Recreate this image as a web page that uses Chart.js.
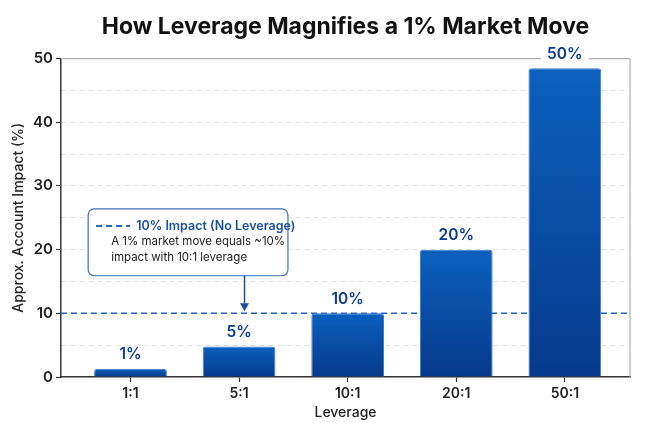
<!DOCTYPE html>
<html>
<head>
<meta charset="utf-8">
<script src="https://cdn.jsdelivr.net/npm/chart.js@4/dist/chart.umd.min.js"></script>
<style>
  html, body { margin: 0; padding: 0; background: #fff; }
  #wrap { width: 650px; height: 433px; }
</style>
</head>
<body>
<div id="wrap"><canvas id="grafica"></canvas></div>
<script>
// Datos
const categorias = ['1:1', '5:1', '10:1', '20:1', '50:1'];
const impactos = [1.3, 4.8, 10, 20, 48.5];
const etiquetas = ['1%', '5%', '10%', '20%', '50%'];
const ticksY = [0, 10, 20, 30, 40, 50];
const lineaReferencia = 10;

const FUENTE = 'Inter, "Noto Sans", sans-serif';

// Marco superior/derecho y línea de referencia (detrás de las barras)
const fondoPlugin = {
  id: 'fondo',
  beforeDatasetsDraw(chart) {
    const { ctx, chartArea: a, scales } = chart;
    ctx.save();
    ctx.strokeStyle = '#b0b0b0';
    ctx.lineWidth = 1.2;
    ctx.beginPath();
    ctx.moveTo(a.left, a.top);
    ctx.lineTo(a.right, a.top);
    ctx.lineTo(a.right, a.bottom);
    ctx.stroke();

    const yRef = scales.y.getPixelForValue(lineaReferencia);
    ctx.strokeStyle = '#2563c4';
    ctx.lineWidth = 1.5;
    ctx.setLineDash([6, 4]);
    ctx.beginPath();
    ctx.moveTo(a.left, yRef);
    ctx.lineTo(a.right, yRef);
    ctx.stroke();
    ctx.restore();
  }
};

// Etiquetas de valor y cuadro de anotación
const etiquetasPlugin = {
  id: 'etiquetas',
  afterDatasetsDraw(chart) {
    const { ctx, scales } = chart;
    const meta = chart.getDatasetMeta(0);
    ctx.save();
    ctx.font = '600 15.5px ' + FUENTE;
    ctx.textAlign = 'center';
    ctx.textBaseline = 'middle';
    meta.data.forEach((bar, i) => {
      const txt = etiquetas[i];
      const w = ctx.measureText(txt).width;
      const y = bar.y - 14;
      ctx.fillStyle = '#fff';
      ctx.fillRect(bar.x - w / 2 - 6, y - 9, w + 12, 18);
      ctx.fillStyle = '#0d3d8f';
      ctx.fillText(txt, bar.x, y);
    });

    // Cuadro de anotación
    const x = scales.x, y = scales.y;
    const left = x.getPixelForValue(-0.39);
    const right = x.getPixelForValue(1.45);
    const top = y.getPixelForValue(26.4);
    const bottom = y.getPixelForValue(15.9);
    ctx.beginPath();
    ctx.roundRect(left, top, right - left, bottom - top, 6);
    ctx.fillStyle = '#fff';
    ctx.fill();
    ctx.strokeStyle = '#3d6fbf';
    ctx.lineWidth = 1.2;
    ctx.stroke();

    const fila1 = top + 17;
    ctx.strokeStyle = '#2563c4';
    ctx.lineWidth = 2;
    ctx.setLineDash([6, 4]);
    ctx.beginPath();
    ctx.moveTo(left + 8, fila1);
    ctx.lineTo(left + 42, fila1);
    ctx.stroke();
    ctx.setLineDash([]);

    ctx.textAlign = 'left';
    ctx.fillStyle = '#1b4f9e';
    ctx.font = '600 12.5px ' + FUENTE;
    ctx.fillText('10% Impact (No Leverage)', left + 48, fila1);
    ctx.fillStyle = '#222';
    ctx.font = '400 11.5px ' + FUENTE;
    ctx.fillText('A 1% market move equals ~10%', left + 23, fila1 + 16);
    ctx.fillText('impact with 10:1 leverage', left + 23, fila1 + 32);

    // Flecha hacia la línea de referencia
    const ax = x.getPixelForValue(1.05);
    const tip = y.getPixelForValue(lineaReferencia) - 2;
    ctx.strokeStyle = '#1f4f9a';
    ctx.fillStyle = '#1f4f9a';
    ctx.lineWidth = 1.5;
    ctx.beginPath();
    ctx.moveTo(ax, bottom);
    ctx.lineTo(ax, tip - 6);
    ctx.stroke();
    ctx.beginPath();
    ctx.moveTo(ax, tip);
    ctx.lineTo(ax - 4.5, tip - 8);
    ctx.lineTo(ax + 4.5, tip - 8);
    ctx.closePath();
    ctx.fill();
    ctx.restore();
  }
};

function degradado(context) {
  const chart = context.chart;
  if (!chart.chartArea) return '#0a56ad';
  const y = chart.scales.y;
  const top = y.getPixelForValue(impactos[context.dataIndex]);
  const base = y.getPixelForValue(0);
  const g = chart.ctx.createLinearGradient(0, top, 0, base);
  g.addColorStop(0, '#0b60bf');
  g.addColorStop(1, '#063a8b');
  return g;
}

const ctx = document.getElementById('grafica').getContext('2d');
new Chart(ctx, {
  type: 'bar',
  data: {
    datasets: [{
      data: impactos.map((v, i) => ({ x: i, y: v })),
      backgroundColor: degradado,
      borderColor: '#3a78cc',
      borderWidth: 1,
      borderRadius: { topLeft: 3, topRight: 3 },
      borderSkipped: 'bottom',
      barPercentage: 0.67,
      categoryPercentage: 1,
    }],
  },
  options: {
    responsive: true,
    maintainAspectRatio: false,
    animation: false,
    layout: { padding: { left: 0, right: 20, top: 0, bottom: 0 } },
    plugins: {
      legend: { display: false },
      tooltip: { enabled: false },
      title: {
        display: true,
        fullSize: false,
        text: 'How Leverage Magnifies a 1% Market Move',
        color: '#111',
        font: { family: FUENTE, size: 23, weight: '700' },
        padding: { top: 13, bottom: 18 },
      },
    },
    scales: {
      x: {
        type: 'linear',
        offset: false,
        min: -0.64,
        max: 4.6,
        afterBuildTicks(scale) {
          scale.ticks = categorias.map((_, i) => ({ value: i }));
        },
        afterFit(scale) { scale.height = 56; },
        ticks: {
          callback: (v) => categorias[v],
          color: '#222',
          font: { family: FUENTE, size: 14, weight: '600' },
          padding: 3,
          maxRotation: 0,
        },
        grid: { offset: false, drawOnChartArea: false, tickLength: 5, tickColor: '#333', tickWidth: 1.2 },
        border: { color: '#333', width: 1.5 },
        title: {
          display: true,
          text: 'Leverage',
          color: '#222',
          font: { family: FUENTE, size: 14, weight: '500' },
          padding: { top: 2, bottom: 12 },
        },
      },
      y: {
        min: 0,
        max: 50,
        afterFit(scale) { scale.width = 61; },
        ticks: {
          stepSize: 5,
          callback: (v) => (ticksY.includes(v) ? v : ''),
          color: '#222',
          font: { family: FUENTE, size: 15, weight: '600' },
          padding: 3,
        },
        grid: {
          color: (c) => (c.tick && (c.tick.value === 0 || c.tick.value === 50) ? 'transparent' : '#e2e2e2'),
          tickColor: (c) => (c.tick && ticksY.includes(c.tick.value) ? '#333' : 'transparent'),
          tickLength: 5,
          tickWidth: 1.2,
        },
        border: { color: '#333', width: 1.5, dash: [5, 4] },
        title: {
          display: true,
          text: 'Approx. Account Impact (%)',
          color: '#222',
          font: { family: FUENTE, size: 14, weight: '500' },
          padding: { top: 10, bottom: 0 },
        },
      },
    },
  },
  plugins: [fondoPlugin, etiquetasPlugin],
});
</script>
</body>
</html>
